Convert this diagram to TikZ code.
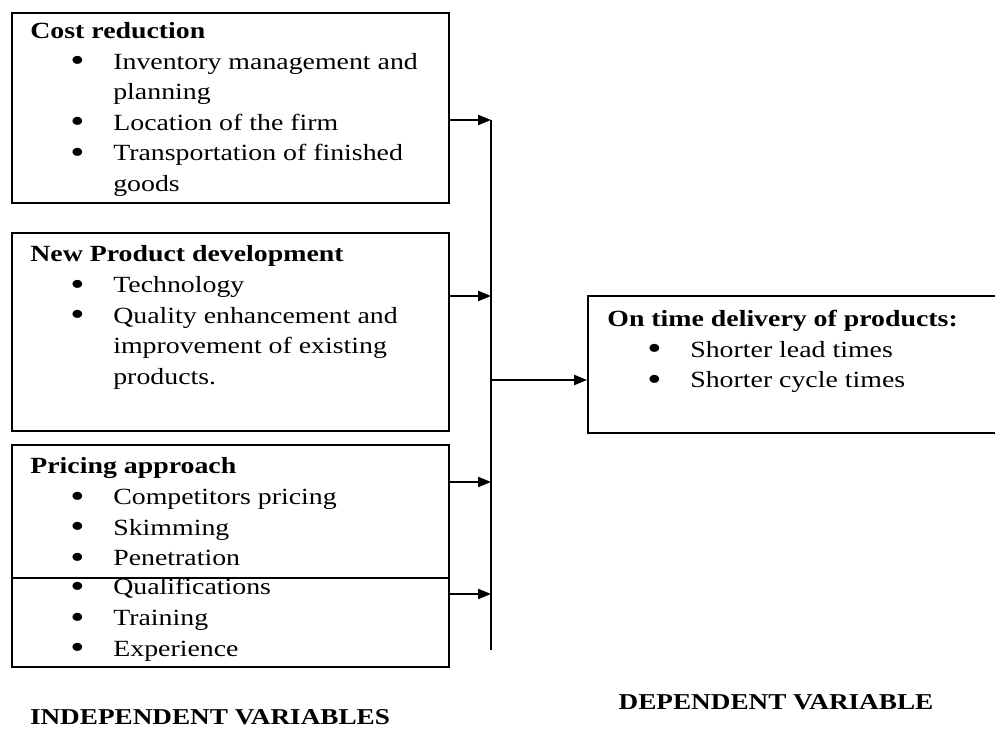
\documentclass[tikz,border=0pt]{standalone}
\usepackage{fontspec}
\setmainfont[FakeStretch=1.2]{Liberation Serif}
\usetikzlibrary{arrows.meta}
\newcommand\bdot{\raisebox{-0.12em}{\scalebox{1.45}{\textbullet}}}
\newcommand\bitem[1]{\hspace*{0.80cm}\makebox[0.86cm][l]{\bdot}#1}
\newcommand\bcont[1]{\hspace*{1.66cm}#1}
\newcommand\boxtext[1]{\parbox[t]{8cm}{\fontsize{13.2}{17.4}\selectfont #1}}
\tikzset{
  panel/.style={draw, line width=1pt, anchor=north west, inner sep=0pt},
  txt/.style={anchor=base west, inner sep=0pt},
  arr/.style={line width=1pt, -{Triangle[length=7.4pt,width=5.8pt]}},
  lbl/.style={font=\fontsize{12.9}{15}\selectfont\bfseries}
}
\begin{document}
\begin{tikzpicture}[x=0.02cm,y=-0.02cm]
   \useasboundingbox (0,0) rectangle (995,729);
   % the four input boxes
   \node[panel, minimum width=8.74cm, minimum height=3.8cm] (b1) at (11,12) {};
   \node[panel, minimum width=8.74cm, minimum height=3.96cm] (b2) at (11,232) {};
   \node[panel, minimum width=8.74cm, minimum height=2.66cm] (b3) at (11,444) {};
   \node[panel, minimum width=8.74cm, minimum height=1.78cm] (b4) at (11,577) {};
   \node[panel, minimum width=8.18cm, minimum height=2.74cm] (rb) at (587,295) {};
   % texts
   \node[txt] (t1) at (30,38.5) {\boxtext{\textbf{Cost reduction}\\
      \bitem{Inventory management and}\\ \bcont{planning}\\
      \bitem{Location of the firm}\\
      \bitem{Transportation of finished}\\ \bcont{goods}}};
   \node[txt] (t2) at (30,262) {\boxtext{\textbf{New Product development}\\
      \bitem{Technology}\\
      \bitem{Quality enhancement and}\\ \bcont{improvement of existing}\\ \bcont{products.}}};
   \node[txt] (t3) at (30,474) {\boxtext{\textbf{Pricing approach}\\
      \bitem{Competitors pricing}\\
      \bitem{Skimming}\\
      \bitem{Penetration}}};
   \node[txt] (t4) at (30,595) {\boxtext{\bitem{Qualifications}\\
      \bitem{Training}\\
      \bitem{Experience}}};
   \node[txt] (t5) at (607,326.5) {\boxtext{\textbf{On time delivery of products:}\\
      \bitem{Shorter lead times}\\
      \bitem{Shorter cycle times}}};
   % bus and arrows
   \coordinate (bustop) at (491,120);
   \coordinate (busbot) at (491,650);
   \draw[line width=1pt] (bustop) -- (busbot);
   \draw[arr] (b1.east |- bustop) -- (bustop);
   \draw[arr] (b2.east |- 0,296) -- (bustop |- 0,296);
   \draw[arr] (b3.east |- 0,482) -- (bustop |- 0,482);
   \draw[arr] (b4.east |- 0,594) -- (bustop |- 0,594);
   \draw[arr] (bustop |- 0,380) -- (rb.west |- 0,380);
   % captions
   \node[lbl] (indep) at (210,717) {INDEPENDENT VARIABLES};
   \node[lbl] (dep) at (776,702) {DEPENDENT VARIABLE};
\end{tikzpicture}
\end{document}
